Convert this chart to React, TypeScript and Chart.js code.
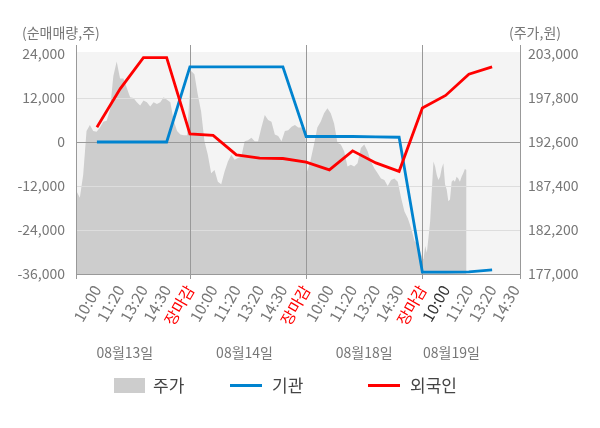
import { useEffect, useRef } from 'react';
import Chart from 'chart.js/auto';

const FONT = '"Noto Sans CJK KR", "Noto Sans", sans-serif';

// one x slot per tick label
const timeLabels = [
  '10:00', '11:20', '13:20', '14:30', '장마감',
  '10:00', '11:20', '13:20', '14:30', '장마감',
  '10:00', '11:20', '13:20', '14:30', '장마감',
  '10:00', '11:20', '13:20', '14:30',
];
const dateLabels = ['08월13일', '08월14일', '08월18일', '08월19일'];

// net buying (shares) at each slot
const institution = [
  0, 0, 0, 0, 20500, 20500, 20500, 20500, 20500,
  1500, 1500, 1500, 1400, 1300, -35500, -35500, -35400, -34900,
];
const foreigner = [
  4000, 14500, 23000, 23000, 2200, 1800, -3500, -4400, -4500,
  -5500, -7600, -2400, -5700, -8000, 9300, 12700, 18500, 20500,
];

// intraday price (won), evenly spaced through each session
const price0813 = [
  186800, 186000, 188700, 193900, 194600, 193900, 193800, 194300, 195000, 195100,
  196400, 200400, 202100, 200100, 200100, 199000, 197900, 197800, 197300, 196900,
  197500, 197300, 196800, 197300, 197100, 197300, 197900, 197600, 197300, 195100,
  193900, 193500, 193400, 193400,
];
const price0814 = [
  201000, 200600, 198200, 196200, 192700, 191100, 188900, 189300, 187900, 187600,
  189100, 190300, 191100, 190500, 190700, 190900, 192700, 192800, 193100, 192700,
  192700, 194300, 195800, 195200, 195000, 193500, 193300, 192700, 193900, 194000,
  194400, 194600, 194300, 194300, 194300,
];
const price0818 = [
  189100, 190500, 192300, 194300, 195000, 196000, 196600, 196000, 194800, 192500,
  192300, 191500, 189700, 189900, 189700, 190100, 191900, 192300, 191500, 190300,
  189500, 188900, 188300, 188100, 187400, 188100, 188300, 187900, 186000, 184400,
  183600, 182400, 180900, 180500, 179300,
];
const price0819 = [
  178700, 180300, 179500, 181300, 183200, 186800, 190300, 189700, 188700, 188100,
  188500, 189500, 190100, 187600, 187000, 185600, 185800, 187900, 188100, 187900,
  188500, 188300, 187900, 188500, 188900, 189400, 189300,
];

const leftTicks = [-36000, -24000, -12000, 0, 12000, 24000];
const rightTicks = [177000, 182200, 187400, 192600, 197800, 203000];

// layout (slot units on the x scale)
const X_MIN = -0.9;
const X_MAX = 18.2;
const priceDays = [price0813, price0814, price0818, price0819];
const daySpans = [[-0.88, 3.88], [4.05, 8.95], [9.05, 13.95], [14.05, 15.9]];
const dayBreaks = [4, 9, 14];
const dateLabelAt = [1.2, 6.35, 11.5, 15.25];

const pricePoints = priceDays.flatMap((vals, d) => {
  const [a, b] = daySpans[d];
  return vals.map((v, i) => ({ x: a + ((b - a) * i) / (vals.length - 1), y: v }));
});

const fmt = (v: number) => v.toLocaleString('en-US');

const decor = {
  id: 'decor',
  beforeDatasetsDraw(chart: any) {
    const { ctx, chartArea: a } = chart;
    ctx.save();
    ctx.fillStyle = '#f4f4f4';
    ctx.fillRect(a.left, a.top - 2, a.right - a.left, a.bottom - a.top + 2);
    ctx.restore();
  },
  afterDatasetDraw(chart: any, args: any) {
    if (args.index !== 2) return;
    const { ctx, chartArea: a, scales } = chart;
    ctx.save();
    ctx.lineWidth = 1;
    leftTicks.forEach((t) => {
      if (t === 24000) return;
      const y = Math.round(scales.y.getPixelForValue(t)) + 0.5;
      ctx.strokeStyle = t === 0 || t === -36000 ? '#999' : '#dddddd';
      ctx.beginPath();
      ctx.moveTo(a.left, y);
      ctx.lineTo(a.right, y);
      ctx.stroke();
    });
    const xs = [a.left, ...dayBreaks.map((v) => scales.x.getPixelForValue(v)), a.right];
    ctx.strokeStyle = '#999';
    xs.forEach((px) => {
      const x = Math.round(px) + 0.5;
      ctx.beginPath();
      ctx.moveTo(x, a.top - 9);
      ctx.lineTo(x, a.bottom + 5);
      ctx.stroke();
    });
    ctx.restore();
  },
  afterDraw(chart: any) {
    const { ctx, scales } = chart;
    ctx.save();
    ctx.font = `14px ${FONT}`;
    ctx.fillStyle = '#777';
    ctx.textBaseline = 'middle';
    ctx.textAlign = 'left';
    ctx.fillText('(순매매량,주)', 22, 33);
    ctx.fillText('(주가,원)', 509, 33);
    ctx.textAlign = 'center';
    dateLabels.forEach((t, i) => {
      ctx.fillText(t, scales.x.getPixelForValue(dateLabelAt[i]), 353);
    });
    // legend
    ctx.textAlign = 'left';
    ctx.font = `17px ${FONT}`;
    ctx.fillStyle = '#cdcdcd';
    ctx.fillRect(114, 378, 31, 15);
    ctx.fillStyle = '#0083cf';
    ctx.fillRect(230, 384, 32, 3);
    ctx.fillStyle = '#ff0000';
    ctx.fillRect(368, 384, 32, 3);
    ctx.fillStyle = '#444';
    ctx.fillText('주가', 153, 386);
    ctx.fillText('기관', 272, 386);
    ctx.fillText('외국인', 410, 386);
    ctx.restore();
  },
};

const App = () => {
  const canvasRef = useRef<HTMLCanvasElement>(null);

  useEffect(() => {
    if (!canvasRef.current) return;
    const chart = new Chart(canvasRef.current, {
      type: 'line',
      data: {
        datasets: [
          {
            label: '외국인',
            data: foreigner.map((v, i) => ({ x: i, y: v })),
            borderColor: '#ff0000',
            borderWidth: 2.8,
            pointRadius: 0,
            yAxisID: 'y',
          },
          {
            label: '기관',
            data: institution.map((v, i) => ({ x: i, y: v })),
            borderColor: '#0083cf',
            borderWidth: 2.8,
            pointRadius: 0,
            yAxisID: 'y',
          },
          {
            label: '주가',
            data: pricePoints,
            borderWidth: 0,
            borderColor: 'rgba(0,0,0,0)',
            backgroundColor: '#cdcdcd',
            fill: 'start',
            pointRadius: 0,
            yAxisID: 'y2',
          },
        ],
      },
      options: {
        animation: false,
        responsive: false,
        layout: { padding: { top: 54, left: 0, right: 0, bottom: 0 } },
        plugins: { legend: { display: false }, tooltip: { enabled: false } },
        scales: {
          x: {
            type: 'linear',
            min: X_MIN,
            max: X_MAX,
            afterBuildTicks: (s: any) => {
              s.ticks = timeLabels.map((_, i) => ({ value: i }));
            },
            afterFit: (s: any) => {
              s.height = 154;
            },
            grid: { display: false, drawTicks: false },
            border: { display: false },
            ticks: {
              autoSkip: false,
              minRotation: 60,
              maxRotation: 60,
              padding: 8,
              font: { family: FONT, size: 15.5 },
              color: (c: any) =>
                timeLabels[c.index] === '장마감' ? '#ff0000' : c.index === 15 ? '#333' : '#777',
              callback: (v: any) => timeLabels[v],
            },
          },
          y: {
            position: 'left',
            min: -36000,
            max: 24000,
            afterBuildTicks: (s: any) => {
              s.ticks = leftTicks.map((value) => ({ value }));
            },
            afterFit: (s: any) => {
              s.width = 76;
            },
            grid: { display: false, drawTicks: false },
            border: { display: false },
            ticks: {
              padding: 11,
              color: '#777',
              font: { family: FONT, size: 14 },
              callback: (v: any) => fmt(Number(v)),
            },
          },
          y2: {
            position: 'right',
            min: 177000,
            max: 203000,
            afterBuildTicks: (s: any) => {
              s.ticks = rightTicks.map((value) => ({ value }));
            },
            afterFit: (s: any) => {
              s.width = 80;
            },
            grid: { display: false, drawTicks: false },
            border: { display: false },
            ticks: {
              padding: 8,
              color: '#777',
              font: { family: FONT, size: 14 },
              callback: (v: any) => fmt(Number(v)),
            },
          },
        },
      } as any,
      plugins: [decor],
    });
    return () => {
      chart.destroy();
    };
  }, []);

  return (
    <div style={{ position: 'absolute', left: 0, top: 0, width: 600, height: 428 }}>
      <canvas ref={canvasRef} width={600} height={428} style={{ display: 'block' }} />
    </div>
  );
};

export default App;
